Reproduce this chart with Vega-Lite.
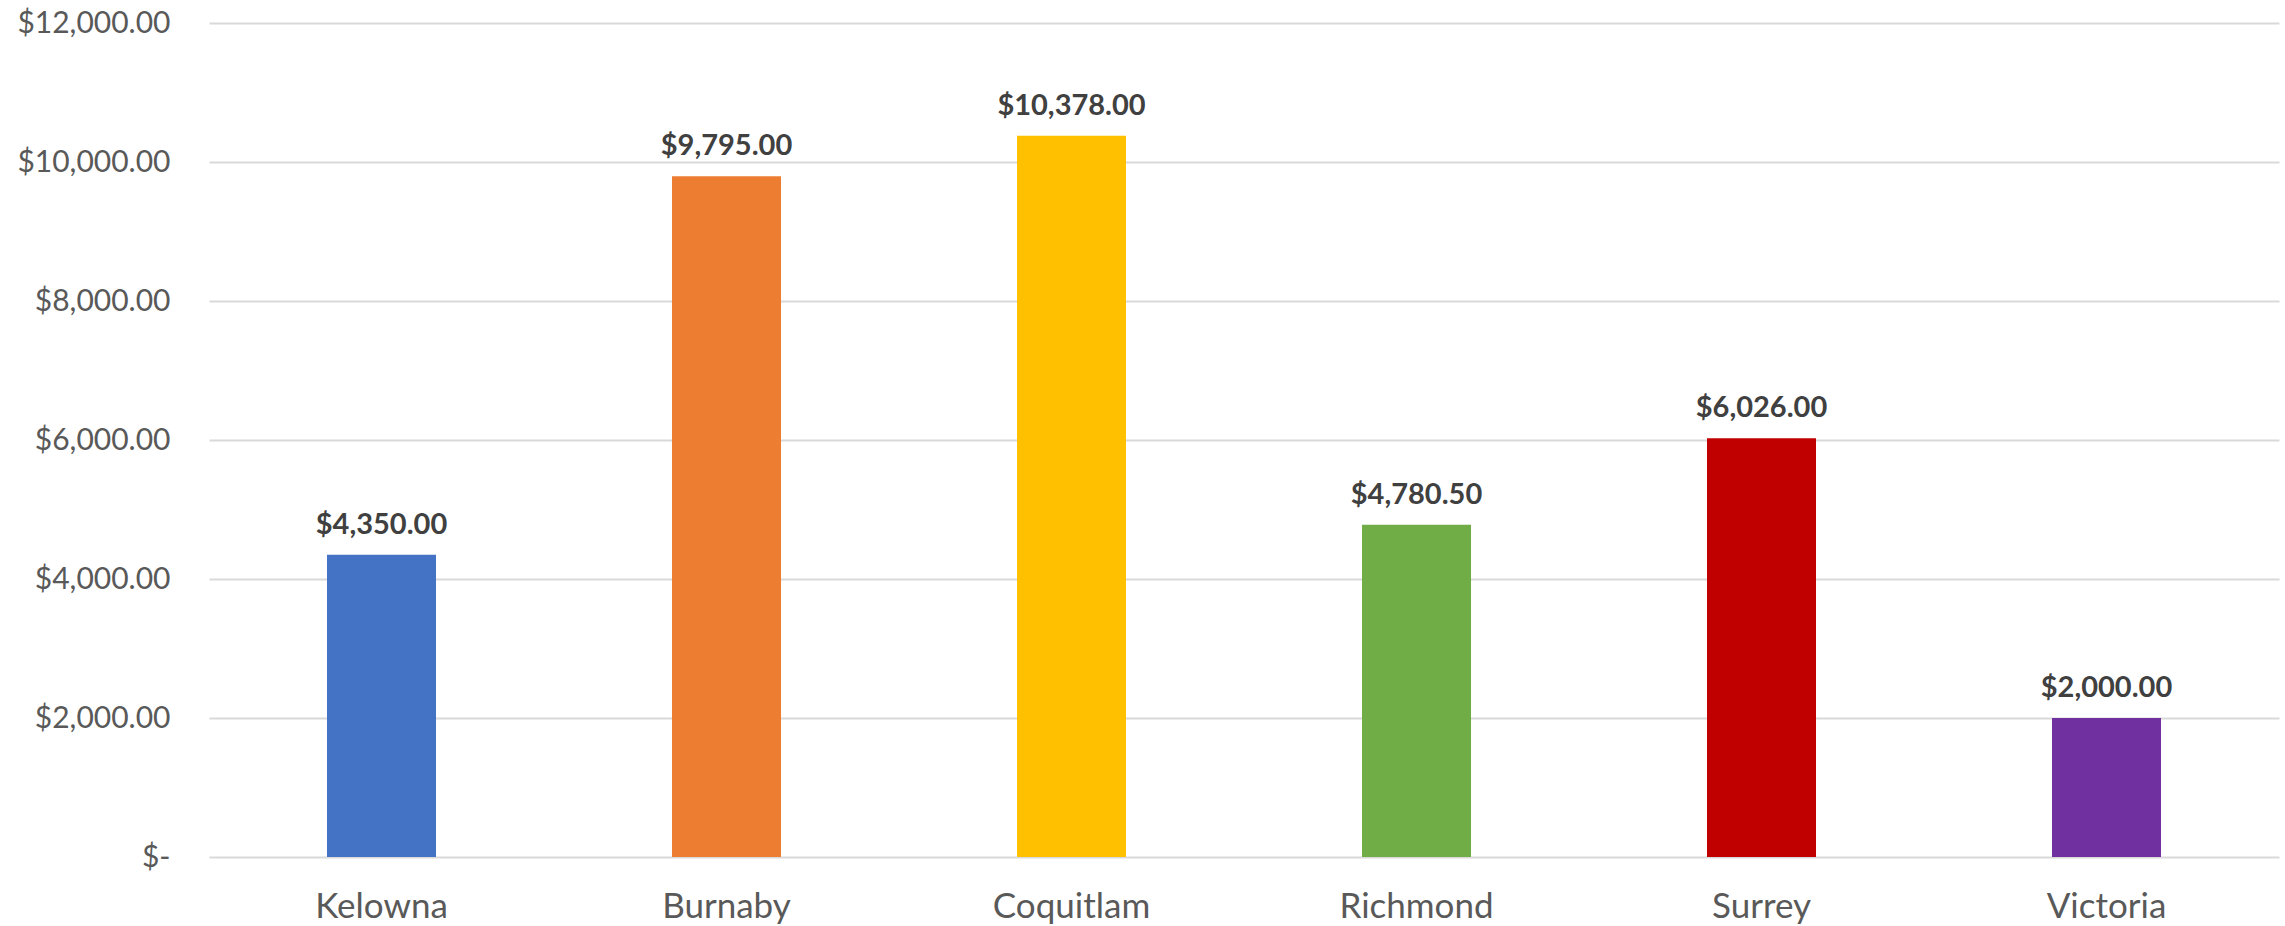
{
  "$schema": "https://vega.github.io/schema/vega-lite/v6.json",
  "autosize": {"type": "none"},
  "width": 2070,
  "height": 834,
  "padding": {"left": 209, "top": 23, "right": 6, "bottom": 69},
  "background": "white",
  "config": {
    "view": {"stroke": null},
    "font": "Lato"
  },
  "data": {
    "values": [
      {"city": "Kelowna", "amount": 4350.00, "color": "#4472C4"},
      {"city": "Burnaby", "amount": 9795.00, "color": "#ED7D31"},
      {"city": "Coquitlam", "amount": 10378.00, "color": "#FFC000"},
      {"city": "Richmond", "amount": 4780.50, "color": "#70AD47"},
      {"city": "Surrey", "amount": 6026.00, "color": "#C00000"},
      {"city": "Victoria", "amount": 2000.00, "color": "#7030A0"}
    ]
  },
  "encoding": {
    "x": {
      "field": "city",
      "type": "nominal",
      "sort": null,
      "scale": {"paddingInner": 0.684, "paddingOuter": 0.342},
      "axis": {
        "title": null,
        "labelAngle": 0,
        "labelFont": "Lato",
        "labelFontSize": 35,
        "labelColor": "#595959",
        "labelPadding": 32,
        "ticks": false,
        "domain": false
      }
    },
    "y": {
      "field": "amount",
      "type": "quantitative",
      "scale": {"domain": [0, 12000]},
      "axis": {
        "title": null,
        "values": [0, 2000, 4000, 6000, 8000, 10000, 12000],
        "labelExpr": "datum.value == 0 ? '$-' : format(datum.value, '$,.2f')",
        "labelFont": "Lato",
        "labelFontSize": 30,
        "labelColor": "#595959",
        "labelPadding": 39,
        "ticks": false,
        "domain": false,
        "gridColor": "#D9D9D9",
        "gridWidth": 2
      }
    }
  },
  "layer": [
    {
      "mark": {"type": "bar"},
      "encoding": {
        "color": {"field": "color", "type": "nominal", "scale": null, "legend": null}
      }
    },
    {
      "mark": {"type": "text", "baseline": "alphabetic", "dy": -21, "fontWeight": "bold", "fontSize": 29, "font": "Lato", "color": "#404040"},
      "encoding": {
        "text": {"field": "amount", "type": "quantitative", "format": "$,.2f"}
      }
    }
  ]
}
